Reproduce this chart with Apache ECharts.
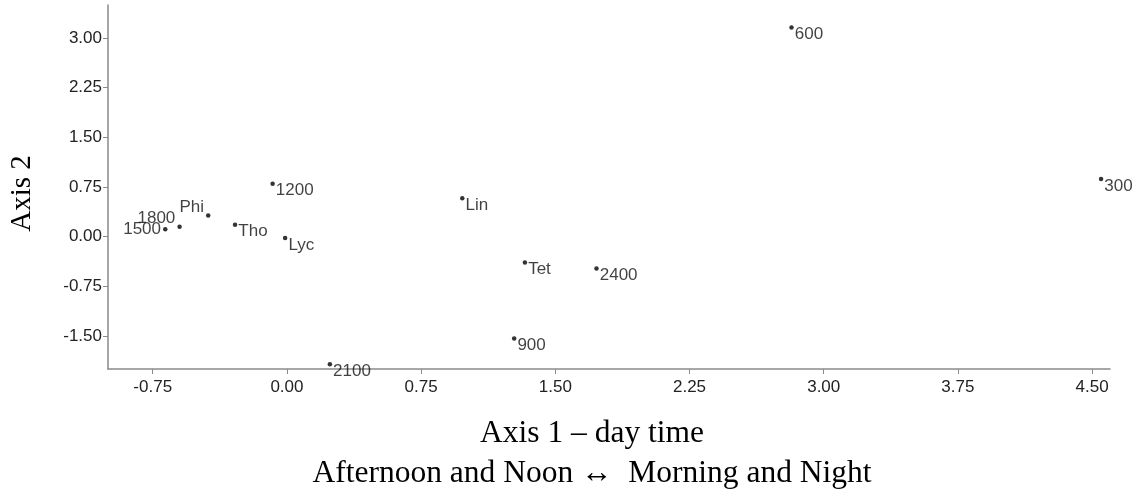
<!DOCTYPE html>
<html>
<head>
<meta charset="utf-8">
<script src="https://cdn.jsdelivr.net/npm/echarts@6/dist/echarts.min.js"></script>
<style>html,body{margin:0;padding:0;background:#fff}#c{width:1146px;height:504px}</style>
</head>
<body>
<div id="c"></div>
<script>
// Point names and coordinates (Axis 1, Axis 2)
var names  = ['1500', '1800', 'Phi', 'Tho', '1200', 'Lyc', '2100', '900', 'Lin', 'Tet', '2400', '600', '300'];
var axis1  = [-0.68, -0.60, -0.44, -0.29, -0.08, -0.01, 0.24, 1.27, 0.98, 1.33, 1.73, 2.82, 4.55];
var axis2  = [0.11, 0.15, 0.32, 0.18, 0.80, -0.02, -1.93, -1.54, 0.58, -0.39, -0.48, 3.16, 0.87];
var xTicks = [-0.75, 0.00, 0.75, 1.50, 2.25, 3.00, 3.75, 4.50];
var yTicks = [-1.50, -0.75, 0.00, 0.75, 1.50, 2.25, 3.00];

var labelLeft = { '1500': [0, 0], '1800': [0, -8], 'Phi': [0, -8] };

var data = names.map(function (n, i) {
  var item = { name: n, value: [axis1[i], axis2[i]] };
  if (labelLeft[n]) {
    item.label = { position: 'left', distance: 2, offset: labelLeft[n] };
  }
  return item;
});

var chart = echarts.init(document.getElementById('c'));
var axisCol = '#8a8a8a';
var tickFont = { fontFamily: 'Liberation Sans, Arial, sans-serif', fontSize: 17, color: '#222' };
chart.setOption({
  animation: false,
  backgroundColor: '#fff',
  grid: { left: 108, right: 36, top: 5, bottom: 135 },
  xAxis: {
    type: 'value', min: -1.0, max: 4.6,
    splitLine: { show: false },
    axisLine: { show: true, onZero: false, lineStyle: { color: axisCol, width: 1.5 } },
    axisTick: { show: true, length: 5, lineStyle: { color: axisCol }, customValues: xTicks },
    axisLabel: Object.assign({ margin: 10, customValues: xTicks, formatter: function (v) { return v.toFixed(2); } }, tickFont)
  },
  yAxis: {
    type: 'value', min: -2.0, max: 3.5,
    splitLine: { show: false },
    axisLine: { show: true, onZero: false, lineStyle: { color: axisCol, width: 1.5 } },
    axisTick: { show: true, length: 5, lineStyle: { color: axisCol }, customValues: yTicks },
    axisLabel: Object.assign({ margin: 6, customValues: yTicks, formatter: function (v) { return v.toFixed(2); } }, tickFont)
  },
  series: [{
    type: 'scatter',
    symbol: 'circle',
    symbolSize: 4.5,
    itemStyle: { color: '#000' },
    label: {
      show: true,
      position: 'right',
      distance: 1,
      offset: [0, 7],
      formatter: '{b}',
      fontFamily: 'Liberation Sans, Arial, sans-serif',
      fontSize: 17,
      color: '#111'
    },
    data: data
  }],
  graphic: [
    {
      type: 'text', x: 22, y: 193.5, rotation: Math.PI / 2,
      style: { text: 'Axis 2', font: '29px "Liberation Serif", "Times New Roman", serif', fill: '#000', align: 'center', verticalAlign: 'middle' }
    },
    {
      type: 'text', x: 592, y: 434,
      style: { text: 'Axis 1 \u2013 day time', font: '31.5px "Liberation Serif", "Times New Roman", serif', fill: '#000', align: 'center', verticalAlign: 'middle' }
    },
    {
      type: 'text', x: 592, y: 474,
      style: { text: 'Afternoon and Noon \u2194  Morning and Night', font: '31.5px "Liberation Serif", "Times New Roman", serif', fill: '#000', align: 'center', verticalAlign: 'middle' }
    }
  ]
});
</script>
</body>
</html>
